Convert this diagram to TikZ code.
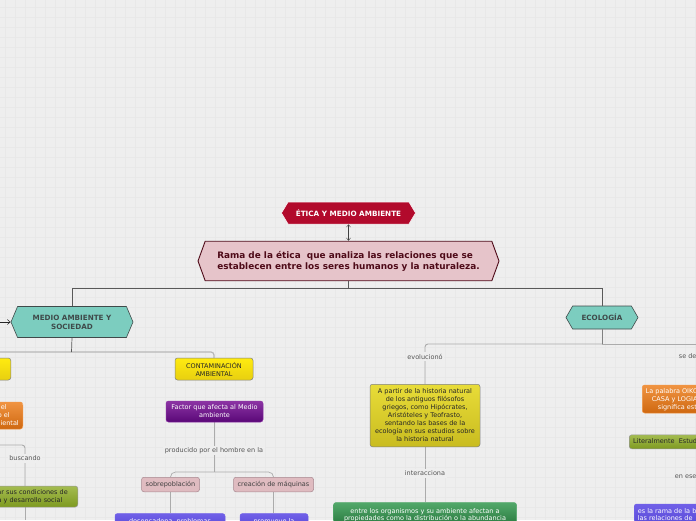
\documentclass[tikz,border=0pt]{standalone}
\usepackage{fontspec}
\setmainfont{DejaVu Sans}
\usetikzlibrary{shapes.symbols,arrows.meta}
\definecolor{paper}{HTML}{EEEEEE}
\definecolor{gridc}{HTML}{E8E8E8}
\definecolor{wine}{HTML}{B20A2C}
\definecolor{winedk}{HTML}{4E0A18}
\definecolor{pinkf}{HTML}{E6C4CA}
\definecolor{tealf}{HTML}{7CCDBF}
\definecolor{slate}{HTML}{3F4A4A}
\definecolor{linec}{HTML}{ABABAB}
\definecolor{labelc}{HTML}{555555}
\definecolor{yella}{HTML}{FFEB10}
\definecolor{yellb}{HTML}{E8CF10}
\definecolor{duna}{HTML}{E8DC38}
\definecolor{dunb}{HTML}{C9BC20}
\definecolor{oliva}{HTML}{A4BC50}
\definecolor{olivb}{HTML}{7E9A20}
\definecolor{orana}{HTML}{F09442}
\definecolor{oranb}{HTML}{CF6810}
\definecolor{purpa}{HTML}{8C34A4}
\definecolor{purpb}{HTML}{5A0878}
\definecolor{viola}{HTML}{7060E8}
\definecolor{violb}{HTML}{5040D0}
\definecolor{rosef}{HTML}{DFBBC0}
\definecolor{rosed}{HTML}{A88890}
\definecolor{greena}{HTML}{52A86A}
\definecolor{greenb}{HTML}{1A6A30}
\tikzset{
  hex/.style={signal,signal to=west and east,inner sep=0pt,align=center},
  title node/.style={hex,signal pointer angle=118,draw=white,line width=0.5pt,fill=wine,text=white,font=\fontsize{7.25}{8}\selectfont\bfseries,minimum width=134pt,minimum height=22pt},
  main node/.style={hex,signal pointer angle=140,draw=winedk,line width=0.9pt,fill=pinkf,text=winedk,font=\fontsize{8.9}{11}\selectfont\bfseries,minimum width=301pt,minimum height=39.5pt},
  branch node/.style={hex,draw=slate,line width=0.6pt,fill=tealf,text=slate,font=\fontsize{7.2}{9}\selectfont\bfseries},
  box node/.style={rounded corners=2.5pt,inner sep=0pt,align=center,font=\fontsize{6.5}{8}\selectfont,line width=0.5pt},
  yellow node/.style={box node,draw=black!50,top color=yella,bottom color=yellb,text=black!85},
  dun node/.style={box node,draw=black!50,top color=duna,bottom color=dunb,text=black!85},
  olive node/.style={box node,draw=black!40,top color=oliva,bottom color=olivb,text=black!85},
  orange node/.style={box node,draw=orana,top color=orana,bottom color=oranb,text=white},
  purple node/.style={box node,draw=purpa,top color=purpa,bottom color=purpb,text=white},
  violet node/.style={box node,draw=viola,top color=viola,bottom color=violb,text=white},
  rose node/.style={box node,draw=rosed,fill=rosef,text=black!75},
  green node/.style={box node,draw=greena,top color=greena,bottom color=greenb,text=white},
  cut text/.style={font=\fontsize{6.5}{8}\selectfont,inner sep=0pt},
  link/.style={draw=linec,line width=0.9pt},
  bar/.style={draw=black!65,line width=0.7pt},
  tag/.style={font=\fontsize{6.5}{8}\selectfont,text=labelc,fill=paper,inner sep=1.5pt}
}
\begin{document}
\begin{tikzpicture}[x=1pt,y=-1pt]
  \useasboundingbox (0,0) rectangle (696,520);
  \clip (0,0) rectangle (696,520);
  \fill[paper] (0,0) rectangle (696,520);
  \foreach \gx in {5,15,...,695} \draw[gridc,line width=0.8pt] (\gx,0) -- (\gx,520);
  \foreach \gy in {7,17,...,517} \draw[gridc,line width=0.8pt] (0,\gy) -- (696,\gy);

  % free ends and junctions
  \coordinate (busm) at (348.5,288.5);
  \coordinate (leftin) at (0,322);
  \coordinate (leftend) at (0,352);
  \coordinate (medbus) at (71.5,352);
  \coordinate (ecobus) at (602,344);
  \coordinate (ecoend) at (696,344);
  \coordinate (split) at (214,472);
  \coordinate (buscend) at (0,445);
  \coordinate (olivend) at (25,520);

  \draw[link,line width=1.2pt,draw=linec!85,rounded corners=3pt] (leftend) -- (medbus) -| (214,358);
  \draw[link,rounded corners=3pt] (buscend) -| (25,486);
  \draw[link] (25,507) -- (olivend);
  \draw[link,rounded corners=3pt] (425,384) |- (ecobus);
  \draw[link] (ecobus) -- (ecoend);
  \draw[link] (425,447) -- (425,502);
  \draw[link] (214,422) -- (split);
  \draw[link,line width=0.7pt,rounded corners=5pt] (170.5,477) |- (split) -| (273.5,477);
  \draw[link] (170.5,492) -- (170.5,513);
  \draw[link] (273.5,492) -- (273.5,513);

  \node[title node] (etica) at (348.5,213) {ÉTICA Y MEDIO AMBIENTE};
  \node[main node,align=left] (rama) at (348.5,261) {Rama de la ética\ \ que analiza las relaciones que se\\establecen entre los seres humanos y la naturaleza.};
  \node[branch node,signal pointer angle=134,minimum width=122pt,minimum height=31pt] (medio) at (72,322) {MEDIO AMBIENTE Y\\SOCIEDAD};
  \node[branch node,signal pointer angle=120,minimum width=72pt,minimum height=23pt] (ecologia) at (602,317.5) {ECOLOGÍA};

  \node[yellow node,minimum width=78pt,minimum height=22pt] (contam) at (214,369) {CONTAMINACIÓN\\AMBIENTAL};
  \node[purple node,minimum width=97pt,minimum height=21pt] (factor) at (214.5,411.5) {Factor que afecta al Medio\\ambiente};
  \node[rose node,minimum width=58pt,minimum height=14.5pt] (sobre) at (170.5,484.5) {sobrepoblación};
  \node[rose node,minimum width=80pt,minimum height=14.5pt] (maquinas) at (273.5,484.5) {creación de máquinas};
  \node[violet node,minimum width=110pt,minimum height=20pt,anchor=north] (desenc) at (170,513.3) {\raisebox{6pt}{desencadena\ \ problemas}};
  \node[violet node,minimum width=68pt,minimum height=20pt,anchor=north] (promueve) at (274,513.3) {\raisebox{6pt}{promueve la}};

  \node[yellow node,anchor=east,minimum width=40pt,minimum height=22pt] (izq) at (11,369) {};
  \node[orange node,anchor=east,minimum width=70pt,minimum height=27pt] (orangeizq) at (23,415.5) {};
  \node[olive node,anchor=east,minimum width=130pt,minimum height=21pt] (olivo) at (78,496.5) {};
  \node[cut text,anchor=east,text=white] (oa) at (7,407) {el};
  \node[cut text,anchor=east,text=white] (ob) at (10,415) {o el};
  \node[cut text,anchor=east,text=white] (oc) at (19,423) {iental};
  \node[cut text,anchor=east,text=black!85] (od) at (68,492.5) {ar sus condiciones de};
  \node[cut text,anchor=east,text=black!85] (oe) at (62.5,500.5) {a y desarrollo social};

  \node[dun node,minimum width=110pt,minimum height=62.5pt] (historia) at (425,415.5) {A partir de la historia natural\\de los antiguos filósofos\\griegos, como Hipócrates,\\Aristóteles y Teofrasto,\\sentando las bases de la\\ecología en sus estudios sobre\\la historia natural};
  \node[green node,minimum width=183pt,minimum height=30pt,anchor=north] (entre) at (425,502.3) {\raisebox{10pt}{\begin{tabular}{@{}c@{}}entre los organismos y su ambiente afectan a\\[-1.5pt]propiedades como la distribución o la abundancia\end{tabular}}};

  \node[orange node,anchor=west,minimum width=90pt,minimum height=28pt] (oikos) at (642,399) {};
  \node[olive node,anchor=west,minimum width=90pt,minimum height=14pt] (literal) at (629,441.8) {};
  \node[violet node,anchor=west,minimum width=90pt,minimum height=30pt] (ramab) at (634,519) {};
  \node[cut text,anchor=west,text=white] (ta) at (645.5,391.5) {La palabra OIKO};
  \node[cut text,anchor=west,text=white] (tb) at (651.7,399.5) {CASA y LOGIA};
  \node[cut text,anchor=west,text=white] (tc) at (657.7,407.5) {significa estu};
  \node[cut text,anchor=west,text=black!85] (td) at (633,441.5) {Literalmente\ \ Estud};
  \node[cut text,anchor=west,text=white] (te) at (637.7,510.7) {es la rama de la bi};
  \node[cut text,anchor=west,text=white] (tf) at (637.7,518.5) {las relaciones de};

  % connectors of the upper levels
  \draw[{Straight Barb[length=2.5pt,width=4pt]}-{Straight Barb[length=2.5pt,width=4pt]},draw=black!75,line width=0.4pt] (etica.south) -- (rama.north);
  \draw[bar] (rama.south) -- (busm);
  \draw[bar] (medio.north) |- (busm) -| (ecologia.north);
  \draw[bar] (medio.south) -- (medbus);
  \draw[bar,draw=black!50,line width=0.8pt] (ecologia.south) -- (ecobus);
  \draw[-{Straight Barb[length=3pt,width=5pt]},draw=black!85,line width=0.5pt] (leftin) -- (medio.west);

  \node[tag] (evol) at (425,356.5) {evolucionó};
  \node[tag] (inter) at (425,473.5) {interacciona};
  \node[tag] (prod) at (214,450.5) {producido por el hombre en la};
  \node[tag] (busc) at (25,458.5) {buscando};
  \node[tag,anchor=west,inner sep=0pt] (sede) at (678.7,356.5) {se de};
  \node[tag,anchor=west,inner sep=0pt] (enese) at (674.7,476.7) {en ese};
\end{tikzpicture}
\end{document}
